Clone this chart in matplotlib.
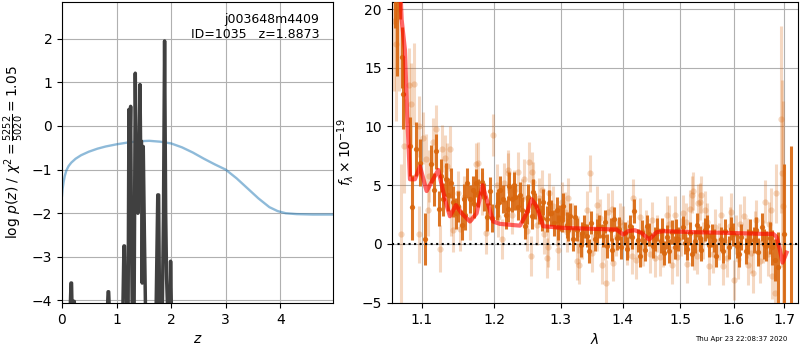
import matplotlib
matplotlib.use("Agg")
import matplotlib.pyplot as plt
from matplotlib.ticker import NullLocator, FormatStrFormatter

# redshift fit summary
z_chi = [0.0, 0.01, 0.03, 0.05, 0.08, 0.12, 0.17, 0.25, 0.35, 0.49, 0.65, 0.8,
         1.0, 1.2, 1.4, 1.6, 1.8, 2.0, 2.2, 2.4, 2.6, 2.8, 3.0, 3.2, 3.4, 3.6,
         3.8, 3.95, 4.1, 4.3, 4.6, 4.97]
chi_scaled = [-1.6, -1.45, -1.28, -1.15, -1.02, -0.92, -0.84, -0.75, -0.67,
              -0.59, -0.52, -0.47, -0.42, -0.38, -0.35, -0.34, -0.36, -0.40,
              -0.49, -0.61, -0.75, -0.88, -1.0, -1.2, -1.43, -1.66, -1.86,
              -1.95, -2.0, -2.02, -2.03, -2.03]

# log p(z); the floor sits below the plotted range
z_pz = [0.00, 0.14, 0.165, 0.175, 0.19, 0.215, 0.225, 0.24, 0.82, 0.845, 0.855,
        0.88, 1.11, 1.135, 1.145, 1.16, 1.175, 1.19, 1.21, 1.227, 1.24, 1.258,
        1.27, 1.29, 1.32, 1.343, 1.36, 1.372, 1.39, 1.405, 1.429, 1.445, 1.455,
        1.47, 1.489, 1.51, 1.535, 1.72, 1.755, 1.771, 1.79, 1.807, 1.835, 1.86,
        1.88, 1.90, 1.917, 1.945, 1.975, 1.99, 2.01, 2.05, 4.97]
log_pz = [-4.6, -4.6, -3.6, -3.6, -4.6, -4.02, -4.02, -4.6, -4.6, -3.8, -3.8,
          -4.6, -4.6, -2.75, -2.75, -3.9, -3.3, -4.6, -4.6, 0.38, -1.0, 0.45,
          -2.0, -4.6, -4.6, 1.21, -0.9, -0.9, -2.0, -1.5, 0.95, -1.0, -0.35,
          -3.6, -0.47, -2.5, -4.6, -4.6, -1.58, -1.58, -4.6, -3.5, -4.6, -2,
          1.95, -2.0, -3.5, -4.6, -4.6, -3.1, -4.6, -4.6, -4.6]

root = "j003648m4409"
obj_id = 1035
z_best = 1.8873
chi2_num, chi2_den = 5252, 5020

# binned spectrum
dark_wave = [1.0652, 1.0676, 1.0710, 1.0735, 1.0747, 1.0843, 1.0865, 1.0917,
             1.0974, 1.1040, 1.1119, 1.1194, 1.1230, 1.1276, 1.1316, 1.1351,
             1.1390, 1.1455, 1.1490, 1.1537, 1.1570, 1.1615, 1.1653, 1.1691,
             1.1738, 1.1770, 1.1818, 1.1889, 1.1936, 1.2033, 1.2081, 1.2120,
             1.2168, 1.2217, 1.2257, 1.2301, 1.2350, 1.2400, 1.2449, 1.2499,
             1.2550, 1.2600, 1.2665, 1.2726, 1.2787, 1.2840, 1.2891, 1.2933,
             1.2984, 1.3036, 1.3089, 1.3141, 1.3193, 1.3257, 1.3311, 1.3364,
             1.3417, 1.3471, 1.3542, 1.3612, 1.3677, 1.3743, 1.3800, 1.3855,
             1.3910, 1.3966, 1.4039, 1.4123, 1.4191, 1.4265, 1.4323, 1.4381,
             1.4455, 1.4525, 1.4584, 1.4653, 1.4712, 1.4771, 1.4849, 1.4908,
             1.4967, 1.5046, 1.5119, 1.5179, 1.5270, 1.5301, 1.5393, 1.5455,
             1.5534, 1.5598, 1.5673, 1.5749, 1.5831, 1.5913, 1.5979, 1.6066,
             1.6151, 1.6235, 1.6313, 1.6392, 1.6477, 1.6564, 1.6630, 1.6710,
             1.6811, 1.6878, 1.7000, 1.7136,
             1.1160, 1.1250, 1.1425, 1.1590, 1.1715, 1.1850, 1.1970, 1.2060,
             1.2195, 1.2280, 1.2375, 1.2475, 1.2575, 1.2700, 1.2815, 1.2960,
             1.3010, 1.3115, 1.3225, 1.3338, 1.3445, 1.3580, 1.3710, 1.3828,
             1.3940, 1.4080, 1.4160, 1.4295, 1.4420, 1.4555, 1.4680, 1.4810,
             1.4935, 1.5085, 1.5220, 1.5360, 1.5500, 1.5635, 1.5790, 1.5945,
             1.6110, 1.6270, 1.6430, 1.6600, 1.6750]
dark_flux = [23.0, 24.0, 22.0, 15.9, 12.8, 8.3, 3.1, 8.1, 6.9, 0.4, 6.8, 7.9,
             3.0, 3.8, 5.5, 4.2, 5.2, 2.6, 3.2, 1.6, 3.8, 5.2, 3.8, 4.6, 5.2,
             4.3, 5.3, 2.3, 4.5, 3.2, 4.6, 3.8, 2.5, 4.9, 3.8, 4.0, 3.1, 2.9,
             1.5, 4.0, 2.4, 3.2, 2.8, 3.6, 2.1, 2.6, 1.8, 2.9, 2.2, 3.2, 1.6,
             2.4, 0.4, 1.2, -0.1, 1.5, 0.7, 1.8, 0.4, 1.5, 0.7, -0.2, 1.2, 2.1,
             0.5, -0.3, 0.9, 1.5, 2.8, 0.3, 1.0, -0.5, 0.8, -0.2, 1.2, 0.2,
             -0.8, 0.6, 1.0, -0.3, 0.4, 1.4, -0.4, 0.9, 0.2, 1.6, -0.5, 1.2,
             -0.1, 0.7, -1.0, 0.4, 1.1, -0.3, 0.8, -0.2, 0.6, -0.6, 1.0, 0.3,
             -0.7, 1.4, -0.2, 0.5, -1.4, -2.0, 0.8, -6.5,
             4.6, 5.8, 3.6, 2.5, 3.4, 4.0, 2.2, 3.5, 3.0, 5.0, 4.2, 2.8, 4.4,
             2.2, 3.5, 1.4, 2.0, 1.2, 2.3, 0.9, -0.6, 1.1, 1.9, -0.5, 1.3,
             -0.4, 0.6, -1.0, 1.5, 0.4, 1.2, -0.6, 1.1, 0.1, -0.9, 0.5, 1.5,
             0.3, -0.6, 1.3, -0.9, 0.2, 1.2, 0.0, -0.3]
dark_err = [4.6, 9.7, 2.8, 2.6, 3.0, 2.5, 2.8, 2.3, 2.0, 2.2, 1.6, 1.5, 1.5,
            1.4, 1.4, 1.4, 1.3, 1.3, 1.3, 1.3, 1.3, 1.3, 1.2, 1.2, 1.2, 1.2,
            1.2, 1.2, 1.2, 1.2, 1.2, 1.2, 1.2, 1.2, 1.1, 1.1, 1.1, 1.1, 1.1,
            1.1, 1.1, 1.1, 1.1, 1.1, 1.1, 1.1, 1.1, 1.1, 1.1, 1.1, 1.1, 1.1,
            1.0, 1.0, 1.0, 1.0, 1.0, 1.0, 1.0, 1.0, 1.0, 1.0, 1.0, 1.0, 1.0,
            1.0, 1.0, 1.0, 1.0, 1.0, 1.0, 1.0, 1.0, 1.0, 1.0, 1.0, 1.0, 1.0,
            1.0, 1.0, 1.0, 1.0, 1.0, 1.0, 1.0, 1.0, 1.0, 1.0, 1.0, 1.0, 1.0,
            1.0, 1.0, 1.0, 1.0, 1.0, 1.1, 1.1, 1.1, 1.1, 1.2, 1.2, 1.3, 1.4,
            1.8, 3.0, 6.0, 14.8,
            1.4, 1.4, 1.3, 1.3, 1.2, 1.2, 1.2, 1.2, 1.1, 1.1, 1.1, 1.1, 1.1,
            1.1, 1.1, 1.1, 1.0, 1.0, 1.0, 1.0, 1.0, 1.0, 1.0, 1.0, 1.0, 1.0,
            1.0, 1.0, 1.0, 1.0, 1.0, 1.0, 1.0, 1.0, 1.0, 1.0, 1.0, 1.0, 1.0,
            1.0, 1.1, 1.1, 1.1, 1.3, 1.5]

# individual beam spectra
light_wave = [1.0640, 1.0665, 1.0700, 1.0725, 1.0765, 1.0830, 1.0850, 1.0895,
              1.0960, 1.0962, 1.1017, 1.1053, 1.1083, 1.1097, 1.1150, 1.1186,
              1.1241, 1.1262, 1.1308, 1.1331, 1.1376, 1.1390, 1.1413, 1.1490,
              1.1514, 1.1574, 1.1653, 1.1738, 1.1770, 1.1818, 1.1879, 1.1984,
              1.2033, 1.2060, 1.2106, 1.2140, 1.2195, 1.2202, 1.2253, 1.2290,
              1.2350, 1.2400, 1.2440, 1.2474, 1.2512, 1.2535, 1.2550, 1.2574,
              1.2625, 1.2660, 1.2702, 1.2740, 1.2778, 1.2802, 1.2817, 1.2870,
              1.2933, 1.2960, 1.3010, 1.3060, 1.3089, 1.3113, 1.3170, 1.3246,
              1.3273, 1.3289, 1.3340, 1.3407, 1.3460, 1.3500, 1.3569, 1.3579,
              1.3630, 1.3651, 1.3700, 1.3722, 1.3760, 1.3815, 1.3843, 1.3893,
              1.3950, 1.4010, 1.4067, 1.4100, 1.4151, 1.4180, 1.4230, 1.4294,
              1.4351, 1.4400, 1.4466, 1.4510, 1.4554, 1.4600, 1.4641, 1.4700,
              1.4771, 1.4800, 1.4849, 1.4908, 1.4950, 1.5010, 1.5058, 1.5100,
              1.5130, 1.5179, 1.5221, 1.5228, 1.5250, 1.5313, 1.5331, 1.5362,
              1.5393, 1.5420, 1.5455, 1.5500, 1.5534, 1.5600, 1.5650, 1.5720,
              1.5767, 1.5798, 1.5880, 1.5930, 1.5956, 1.6005, 1.6040, 1.6080,
              1.6118, 1.6200, 1.6260, 1.6280, 1.6340, 1.6378, 1.6420, 1.6445,
              1.6520, 1.6570, 1.6610, 1.6680, 1.6700, 1.6744, 1.6764, 1.6811,
              1.6845, 1.6933, 1.6947, 1.6987]
light_flux = [19.0, 17.0, 20.0, 0.8, 8.3, 13.5, 11.9, 13.6, 10.0, 0.8, 9.0,
              7.2, 2.9, 5.8, 8.7, 9.8, -0.4, 8.1, 7.3, 6.6, 8.1, 2.6, 1.2, 4.3,
              1.3, 4.0, 2.1, 6.8, 6.9, 4.3, 0.9, 9.3, 5.0, 2.3, 0.4, 5.2, 6.0,
              6.3, 2.5, 4.6, 6.1, 3.8, 5.5, 1.1, 7.0, -1.0, 6.1, 5.3, 1.6, 3.9,
              4.6, 0.8, -1.2, -0.3, 4.3, 3.2, 1.5, -0.5, 3.6, 2.7, 1.0, 3.9,
              1.9, -1.5, 0.8, -1.8, 0.3, 2.9, 6.0, -0.8, 3.3, 1.0, 2.2, -1.8,
              0.2, -3.3, 2.7, 3.0, -1.6, 0.6, 1.9, 1.6, -0.2, 0.4, -1.0, 3.9,
              -1.4, 2.3, -0.3, 1.3, -0.9, 2.0, -1.2, 0.9, -1.1, -0.4, 2.5, 1.7,
              -1.8, 2.5, -1.1, 0.6, 2.6, 1.9, -1.7, 3.0, 4.2, 4.5, -0.6, -1.0,
              3.5, 3.6, 4.2, 0.3, 2.9, 1.9, -1.9, -0.9, 1.4, 0.2, 2.5, -1.9,
              -1.2, 1.5, 2.7, -3.1, 0.8, -1.3, 1.7, 2.4, 0.5, -1.8, -0.8, -2.5,
              1.1, 2.0, -1.5, 0.2, 3.6, -0.9, 1.7, 2.9, -2.7, -4.2, 4.3, 10.6,
              6.0, 3.2]
light_err = [6.0, 6.5, 7.0, 6.0, 4.0, 3.2, 3.5, 3.5, 2.6, 2.4, 2.2, 2.2, 2.2,
             2.2, 2.0, 2.0, 2.0, 2.0, 2.0, 2.0, 1.9, 1.9, 1.9, 1.9, 1.9, 1.8,
             1.8, 1.8, 1.8, 1.8, 1.8, 1.8, 1.8, 1.7, 1.7, 1.7, 1.7, 1.7, 1.7,
             1.7, 1.7, 1.7, 1.7, 1.7, 1.7, 1.7, 1.7, 1.7, 1.7, 1.7, 1.7, 1.7,
             1.7, 1.7, 1.7, 1.7, 1.7, 1.7, 1.7, 1.7, 1.7, 1.7, 1.6, 1.6, 1.6,
             1.6, 1.6, 1.6, 1.6, 1.6, 1.6, 1.6, 1.6, 1.6, 1.6, 1.9, 1.6, 1.6,
             1.6, 1.6, 1.6, 1.6, 1.6, 1.6, 1.6, 1.6, 1.6, 1.6, 1.6, 1.6, 1.6,
             1.6, 1.6, 1.6, 1.6, 1.6, 1.6, 1.6, 1.6, 1.6, 1.6, 1.6, 1.6, 1.6,
             1.6, 1.6, 1.6, 1.6, 1.6, 1.6, 1.6, 1.6, 1.6, 1.6, 1.6, 1.6, 1.6,
             1.6, 1.6, 1.6, 1.6, 1.6, 1.6, 1.6, 1.6, 1.7, 1.7, 1.7, 1.7, 1.7,
             1.7, 1.7, 1.7, 1.7, 1.7, 1.7, 1.8, 1.8, 1.8, 1.8, 1.9, 1.9, 2.0,
             2.2, 2.5, 8.0, 8.0, 9.0]

# best-fit model
model_wave = [1.0690, 1.0735, 1.0778, 1.0807, 1.0843, 1.0908, 1.0974, 1.1062,
              1.1218, 1.1308, 1.1376, 1.1459, 1.1537, 1.1653, 1.1747, 1.1832,
              1.1889, 1.1984, 1.2081, 1.2375, 1.2475, 1.2550, 1.2625, 1.2726,
              1.3035, 1.3570, 1.3899, 1.4010, 1.4094, 1.4208, 1.4323, 1.4455,
              1.4584, 1.4700, 1.5302, 1.5926, 1.6576, 1.6777, 1.6846, 1.6913,
              1.6968, 1.7050]
model_flux = [26.0, 19.1, 16.5, 10.9, 5.5, 5.5, 6.6, 4.5, 6.3, 3.8, 2.35,
              3.3, 2.6, 1.9, 2.6, 5.0, 3.8, 1.9, 1.7, 1.55, 2.6, 3.8, 3.2, 1.5,
              1.36, 1.27, 1.22, 0.79, 1.08, 1.16, 0.93, 0.37, 0.99, 1.08, 0.99,
              0.93, 0.85, 0.85, 0.6, -0.48, -1.6, -0.75]

orange = (0.85, 0.40, 0.05)

fig = plt.figure(figsize=(8, 3.5), dpi=100)
ax1 = fig.add_axes([0.0775, 0.134, 0.339, 0.86])
ax2 = fig.add_axes([0.4896, 0.134, 0.508, 0.86])

# left: p(z)
ax1.plot(z_chi, chi_scaled, color="tab:blue", alpha=0.5, lw=1.7)
ax1.plot(z_pz, log_pz, color="#404040", lw=2.5)
ax1.set_xlim(0, 4.97)
ax1.set_ylim(-4.06, 2.84)
ax1.set_yticks([-4, -3, -2, -1, 0, 1, 2])
ax1.set_xlabel(r"$z$")
ax1.set_ylabel(r"$\log\,p(z)$ / $\chi^2=\frac{%d}{%d}=%.2f$"
               % (chi2_num, chi2_den, chi2_num / chi2_den))
ax1.text(0.95, 0.965, "%s\nID=%d   z=%.4f" % (root, obj_id, z_best),
         ha="right", va="top", transform=ax1.transAxes, fontsize=9)
ax1.grid()

# right: spectrum
ax2.errorbar(light_wave, light_flux, light_err, fmt="o", color=orange,
             alpha=0.25, ms=4.5, mew=0, elinewidth=2.2, zorder=2)
ax2.errorbar(dark_wave, dark_flux, dark_err, fmt="o", color=orange,
             alpha=0.9, ms=3.8, mew=0, elinewidth=2.2, zorder=3)
ax2.plot(model_wave, model_flux, color="red", alpha=0.6, lw=3, zorder=4)
ax2.axhline(0, color="k", ls=":", lw=1.5, zorder=5)

ax2.set_xscale("log")
ax2.set_xlim(1.0607, 1.7288)
ax2.set_xticks([1.1, 1.2, 1.3, 1.4, 1.5, 1.6, 1.7])
ax2.xaxis.set_major_formatter(FormatStrFormatter("%.1f"))
ax2.xaxis.set_minor_locator(NullLocator())
ax2.set_ylim(-5.05, 20.6)
ax2.set_xlabel(r"$\lambda$")
ax2.set_ylabel(r"$f_\lambda \times 10^{-19}$")
ax2.grid()

fig.text(0.984, 0.031, "Thu Apr 23 22:08:37 2020", ha="right", va="center",
         fontsize=5)

fig.savefig("out.png", dpi=100)
